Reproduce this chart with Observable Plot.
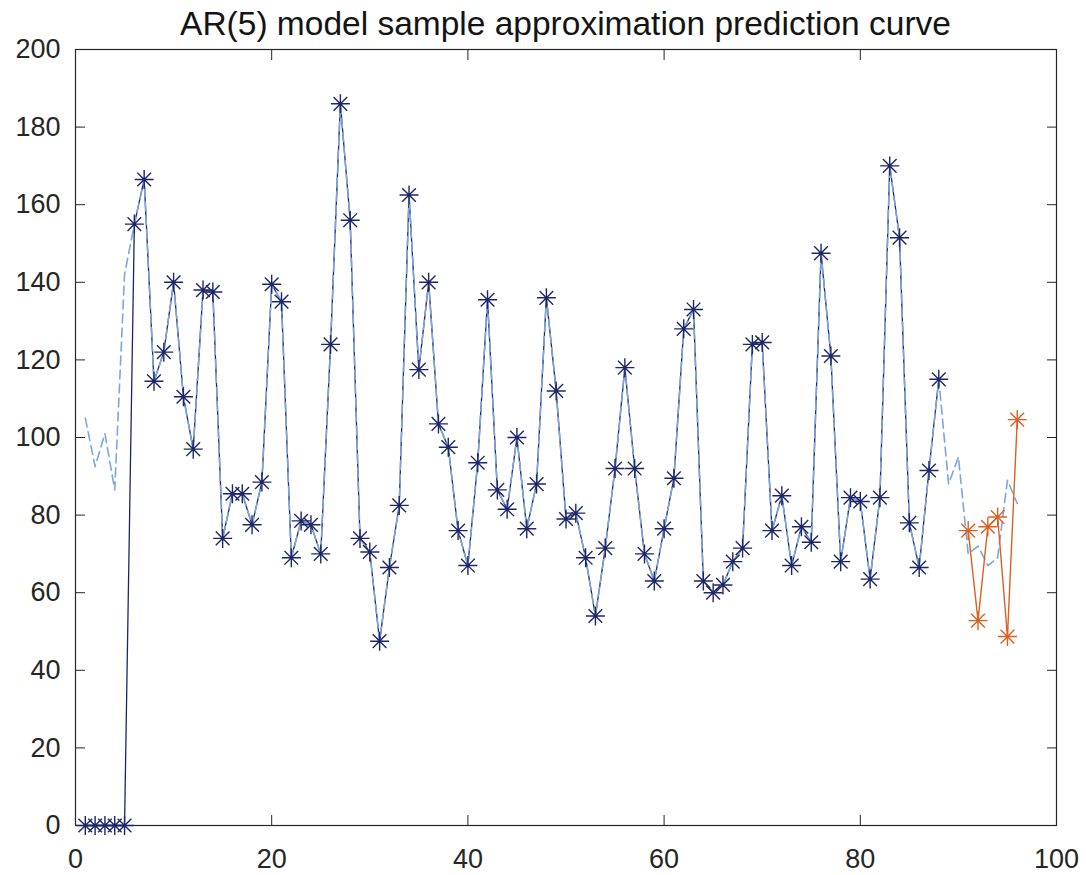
<!DOCTYPE html>
<html><head><meta charset="utf-8">
<script src="https://cdn.jsdelivr.net/npm/d3@7"></script>
<script src="https://cdn.jsdelivr.net/npm/@observablehq/plot@0.6"></script>
<style>
body{margin:0;background:#fff}
#wrap{position:relative;width:1086px;height:875px;font-family:"Liberation Sans",Arial,sans-serif}
#title{position:absolute;left:0;width:1131px;top:5px;text-align:center;font-size:33.5px;color:#141414;white-space:nowrap;line-height:38px}
</style>
</head><body><div id="wrap"><div id="title">AR(5) model sample approximation prediction curve</div><div id="chart"></div></div>
<script>
// Observed samples, t = 1..88
const actual = [0,0,0,0,0,155,166.5,114.5,122,140,110.5,97,138,137.5,74,85.5,85.5,77.5,88.5,139.5,
  135,69,78.5,77.5,70,124,186,156,74,70.5,47.5,66.5,82.5,162.5,117.5,140,103.5,97.5,76,67,
  93.5,135.5,86.5,81.5,100,76.5,88,136,112,79,80.5,69,54,71.5,92,118,92,70,63,76.5,
  89.5,128,133,63,60,62,68,71.5,124,124.5,76,85,67,77,73,147.5,121,68,84.5,83.5,
  63.5,84.5,170,151.5,78,66.5,91.5,115];
// AR(5) fitted / predicted values, t = 1..96 (t=6..88 follow the samples)
const fitHead = [105,92.5,101,86.5,142];
const fitTail = [88,95,70,72,67,69,89,83]; // t = 89..96
// Test samples, t = 91..96
const testX = [91,92,93,94,95,96];
const testY = [76,52.8,77,79.5,48.7,104.6];
const xTicks = [0,20,40,60,80,100];
const yTicks = [0,20,40,60,80,100,120,140,160,180,200];

const actualData = actual.map((v,i)=>({t:i+1, v}));
const fitValues = fitHead.concat(actual.slice(5), fitTail);
const fitData = fitValues.map((v,i)=>({t:i+1, v}));
const testData = testX.map((t,i)=>({t, v:testY[i]}));

const navy = "#1f2668", light = "#7ea6de", orange = "#dc5f24", axisC = "#262626";
const asterisk = {
  draw(ctx, size) {
    const r = Math.sqrt(size / Math.PI), d = r * 0.72;
    ctx.moveTo(-r, 0); ctx.lineTo(r, 0);
    ctx.moveTo(0, -r); ctx.lineTo(0, r);
    ctx.moveTo(-d, -d); ctx.lineTo(d, d);
    ctx.moveTo(-d, d); ctx.lineTo(d, -d);
  }
};

const chart = Plot.plot({
  width: 1086, height: 875,
  marginLeft: 75, marginRight: 30, marginTop: 49, marginBottom: 50,
  style: {fontFamily: '"Liberation Sans", Arial, sans-serif', fontSize: "27px", color: axisC, background: "#fff"},
  x: {domain: [0, 100], ticks: xTicks},
  y: {domain: [0, 200], ticks: yTicks},
  marks: [
    Plot.axisX(xTicks, {anchor: "bottom", tickSize: -10, tickPadding: 33, label: null, stroke: axisC, fill: axisC}),
    Plot.axisX(xTicks, {anchor: "top", tickSize: -10, tickFormat: () => "", label: null, stroke: axisC}),
    Plot.axisY(yTicks, {anchor: "left", tickSize: -10, tickPadding: 25, label: null, stroke: axisC, fill: axisC}),
    Plot.axisY(yTicks, {anchor: "right", tickSize: -10, tickFormat: () => "", label: null, stroke: axisC}),
    Plot.frame({stroke: axisC, strokeWidth: 1.2}),
    Plot.line(actualData, {x: "t", y: "v", stroke: navy, strokeWidth: 1.3}),
    Plot.line(fitData, {x: "t", y: "v", stroke: light, strokeWidth: 1.6, strokeDasharray: "9,5"}),
    Plot.dot(actualData, {x: "t", y: "v", symbol: asterisk, r: 9.5, stroke: navy, fill: "none", strokeWidth: 1.4}),
    Plot.line(testData, {x: "t", y: "v", stroke: orange, strokeWidth: 1.4}),
    Plot.dot(testData, {x: "t", y: "v", symbol: asterisk, r: 9.5, stroke: orange, fill: "none", strokeWidth: 1.4})
  ]
});
document.getElementById("chart").appendChild(chart);
</script>
</body></html>
